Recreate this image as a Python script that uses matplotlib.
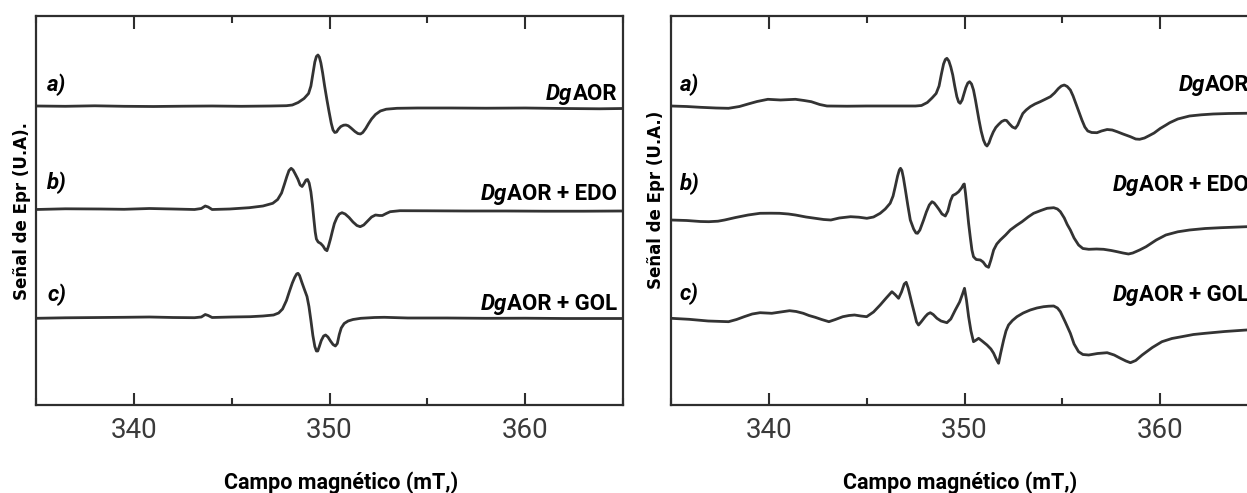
import matplotlib
matplotlib.use("Agg")
import matplotlib.pyplot as plt
from matplotlib import font_manager
from matplotlib.ticker import MultipleLocator

names = {f.name for f in font_manager.fontManager.ttflist}
narrow = "Liberation Sans Narrow" if "Liberation Sans Narrow" in names else "Roboto"

# ---- left panel: field (mT) and signal (a.u., relative to each baseline) ----
left_a_field = [335.0, 336.5, 338.0, 339.5, 341.0, 342.5, 344.0, 345.5, 347.0, 347.8,
                348.1, 348.4, 348.7, 348.93, 349.05, 349.15, 349.25, 349.33, 349.41, 349.48,
                349.56, 349.65, 349.75, 349.87, 349.98, 350.09, 350.18, 350.27, 350.36, 350.46,
                350.58, 350.72, 350.84, 350.96, 351.1, 351.3, 351.45, 351.58, 351.7, 351.85,
                352.0, 352.15, 352.35, 352.6, 352.9, 353.45, 354.5, 356.2, 358.0, 360.0,
                362.0, 363.8, 365.0]
left_a_signal = [0.0, -0.03, 0.02, -0.03, -0.05, -0.02, 0.0, -0.03, 0.0, 0.03,
                 0.1, 0.35, 0.75, 1.25, 2.0, 3.2, 4.4, 4.95, 5.1, 4.9,
                 4.3, 3.3, 2.0, 0.6, -0.6, -1.73, -2.4, -2.65, -2.6, -2.3,
                 -2.05, -1.92, -1.9, -1.98, -2.2, -2.55, -2.75, -2.8, -2.65, -2.25,
                 -1.75, -1.3, -0.85, -0.5, -0.32, -0.23, -0.2, -0.2, -0.22, -0.2,
                 -0.25, -0.28, -0.25]

left_b_field = [335.0, 336.5, 338.3, 339.5, 340.8, 342.0, 343.1, 343.45, 343.65, 343.8,
                344.0, 344.9, 345.9, 346.6, 347.1, 347.35, 347.55, 347.7, 347.82, 347.93,
                348.04, 348.14, 348.25, 348.38, 348.5, 348.6, 348.7, 348.8, 348.88, 348.96,
                349.05, 349.13, 349.2, 349.27, 349.33, 349.42, 349.55, 349.67, 349.78, 349.87,
                349.95, 350.05, 350.15, 350.25, 350.38, 350.5, 350.64, 350.8, 351.0, 351.2,
                351.4, 351.57, 351.75, 351.95, 352.15, 352.35, 352.55, 352.7, 352.9, 353.1,
                353.6, 355.0, 357.0, 359.0, 361.0, 363.0, 365.0]
left_b_signal = [-0.05, 0.02, 0.0, -0.03, 0.05, 0.0, -0.05, 0.05, 0.3, 0.2,
                 -0.05, 0.0, 0.13, 0.3, 0.57, 0.95, 1.6, 2.5, 3.25, 3.85,
                 4.07, 3.9, 3.5, 3.0, 2.4, 2.25, 2.55, 2.9, 2.95, 2.6,
                 1.7, 0.4, -1.0, -2.3, -3.0, -3.3, -3.45, -3.7, -4.05, -4.17,
                 -3.7, -3.0, -2.2, -1.45, -0.85, -0.5, -0.37, -0.5, -0.85, -1.3,
                 -1.65, -1.77, -1.6, -1.2, -0.8, -0.6, -0.65, -0.65, -0.45, -0.27,
                 -0.17, -0.18, -0.2, -0.2, -0.22, -0.22, -0.2]

left_c_field = [335.0, 336.5, 338.3, 339.5, 340.8, 342.0, 343.1, 343.45, 343.65, 343.8,
                344.0, 345.0, 345.95, 346.6, 347.14, 347.4, 347.6, 347.8, 347.95, 348.1,
                348.22, 348.32, 348.39, 348.47, 348.59, 348.7, 348.85, 348.95, 349.05, 349.15,
                349.25, 349.33, 349.4, 349.48, 349.58, 349.7, 349.8, 349.92, 350.05, 350.18,
                350.3, 350.4, 350.5, 350.6, 350.75, 350.95, 351.2, 351.6, 352.3, 352.8,
                354.0, 356.0, 358.0, 360.0, 362.0, 365.0]
left_c_signal = [-0.08, -0.03, 0.0, 0.02, 0.05, 0.0, -0.02, 0.05, 0.3, 0.2,
                 0.0, 0.05, 0.08, 0.15, 0.25, 0.45, 0.85, 1.7, 2.6, 3.45,
                 4.0, 4.35, 4.42, 4.2, 3.5, 2.9, 2.1, 1.1, -0.3, -1.8,
                 -2.9, -3.35, -3.35, -2.9, -2.3, -1.85, -1.75, -1.95, -2.35, -2.7,
                 -2.85, -2.6, -1.7, -1.05, -0.6, -0.35, -0.2, -0.08, 0.0, 0.02,
                 -0.05, -0.05, -0.08, -0.07, -0.1, -0.1]

# ---- right panel ----
right_a_field = [335.0, 335.8, 336.5, 337.3, 337.94, 338.5, 338.94, 339.4, 339.95, 340.6,
                 341.36, 341.8, 342.17, 342.6, 342.97, 344.0, 345.0, 346.5, 347.5, 347.8,
                 348.1, 348.34, 348.55, 348.7, 348.82, 348.93, 349.02, 349.1, 349.2, 349.3,
                 349.4, 349.5, 349.61, 349.7, 349.78, 349.88, 349.97, 350.07, 350.17, 350.26,
                 350.36, 350.46, 350.56, 350.65, 350.74, 350.85, 350.97, 351.07, 351.15, 351.25,
                 351.35, 351.47, 351.6, 351.74, 351.9, 352.05, 352.15, 352.3, 352.45, 352.6,
                 352.72, 352.85, 352.98, 353.15, 353.36, 353.6, 353.87, 354.1, 354.39, 354.6,
                 354.8, 354.95, 355.1, 355.25, 355.41, 355.55, 355.7, 355.85, 356.0, 356.15,
                 356.3, 356.5, 356.77, 357.0, 357.29, 357.55, 357.8, 358.1, 358.48, 358.75,
                 358.95, 359.2, 359.45, 359.69, 360.0, 360.3, 360.49, 360.9, 361.5, 362.1,
                 362.71, 363.5, 364.31, 365.0]
right_a_signal = [0.0, -0.05, -0.13, -0.2, -0.23, -0.05, 0.2, 0.45, 0.67, 0.6,
                  0.67, 0.55, 0.43, 0.15, 0.0, -0.02, 0.0, 0.0, 0.0, 0.05,
                  0.35, 0.8, 1.25, 2.0, 3.2, 4.2, 4.65, 4.77, 4.5, 3.9,
                  3.1, 2.0, 0.93, 0.4, 0.27, 0.6, 1.2, 1.85, 2.3, 2.43,
                  2.2, 1.6, 0.6, -0.4, -1.4, -2.5, -3.4, -3.85, -4.0, -3.7,
                  -3.15, -2.6, -2.15, -1.85, -1.55, -1.42, -1.45, -1.8, -2.1, -2.23,
                  -1.9, -1.3, -0.75, -0.4, -0.07, 0.2, 0.43, 0.65, 0.93, 1.3,
                  1.75, 2.0, 2.1, 1.95, 1.6, 1.0, 0.2, -0.6, -1.4, -2.1,
                  -2.5, -2.65, -2.67, -2.5, -2.35, -2.4, -2.57, -2.8, -3.07, -3.3,
                  -3.33, -3.2, -2.95, -2.7, -2.25, -1.9, -1.67, -1.3, -1.0, -0.88,
                  -0.8, -0.75, -0.73, -0.7]

right_b_field = [335.0, 335.8, 336.5, 336.93, 337.4, 337.74, 338.3, 338.94, 339.55, 340.1,
                 340.55, 341.0, 341.36, 341.9, 342.37, 342.8, 343.17, 343.6, 344.18, 344.6,
                 345.01, 345.35, 345.69, 345.95, 346.2, 346.35, 346.46, 346.58, 346.67, 346.73,
                 346.8, 346.88, 346.98, 347.1, 347.23, 347.4, 347.52, 347.6, 347.72, 347.91,
                 348.05, 348.2, 348.34, 348.45, 348.57, 348.7, 348.85, 349.02, 349.15, 349.28,
                 349.4, 349.55, 349.7, 349.85, 349.95, 349.99, 350.05, 350.12, 350.21, 350.3,
                 350.38, 350.46, 350.6, 350.81, 350.95, 351.1, 351.23, 351.35, 351.49, 351.65,
                 351.83, 352.1, 352.34, 352.65, 352.94, 353.25, 353.53, 353.9, 354.22, 354.56,
                 354.75, 354.9, 355.1, 355.25, 355.41, 355.6, 355.83, 356.05, 356.35, 356.75,
                 357.11, 357.5, 357.8, 358.1, 358.38, 358.6, 358.95, 359.28, 359.8, 360.29,
                 360.9, 361.5, 362.3, 363.11, 364.41, 365.0]
right_b_signal = [0.0, -0.05, -0.15, -0.17, -0.12, 0.0, 0.25, 0.5, 0.67, 0.68,
                  0.67, 0.6, 0.5, 0.3, 0.17, 0.05, 0.0, 0.2, 0.33, 0.28,
                  0.17, 0.3, 0.67, 1.1, 1.67, 2.4, 3.33, 4.4, 5.0, 5.17,
                  4.95, 4.2, 3.0, 1.5, 0.0, -0.9, -1.3, -1.33, -1.0, 0.0,
                  0.8, 1.5, 1.83, 1.7, 1.4, 1.05, 0.6, 0.4, 0.9, 1.9,
                  2.45, 2.6, 2.83, 3.2, 3.55, 3.6, 2.7, 1.4, -0.33, -1.8,
                  -3.0, -3.67, -3.95, -4.0, -4.2, -4.6, -4.73, -4.0, -3.0, -2.4,
                  -2.0, -1.5, -1.0, -0.55, -0.17, 0.3, 0.67, 0.95, 1.17, 1.23,
                  1.1, 0.83, 0.2, -0.45, -1.0, -1.8, -2.5, -2.85, -2.93, -2.9,
                  -2.93, -3.05, -3.17, -3.3, -3.4, -3.3, -3.0, -2.67, -2.0, -1.5,
                  -1.18, -1.0, -0.85, -0.77, -0.67, -0.65]

right_c_field = [335.0, 335.92, 336.9, 337.94, 338.35, 338.74, 339.15, 339.55, 340.15, 340.6,
                 341.06, 341.4, 341.76, 342.05, 342.37, 342.7, 343.07, 343.4, 343.78, 344.1,
                 344.38, 344.7, 345.0, 345.35, 345.69, 346.0, 346.29, 346.45, 346.63, 346.78,
                 346.92, 347.02, 347.12, 347.22, 347.31, 347.45, 347.55, 347.65, 347.78, 347.99,
                 348.12, 348.25, 348.4, 348.59, 348.8, 349.1, 349.3, 349.53, 349.75, 349.9,
                 350.0, 350.1, 350.21, 350.33, 350.46, 350.6, 350.72, 350.9, 351.15, 351.35,
                 351.49, 351.62, 351.74, 351.85, 352.0, 352.12, 352.25, 352.45, 352.68, 353.0,
                 353.36, 353.7, 354.04, 354.3, 354.56, 354.75, 354.9, 355.15, 355.41, 355.6,
                 355.83, 356.05, 356.35, 356.8, 357.29, 357.65, 357.97, 358.25, 358.48, 358.75,
                 359.08, 359.6, 360.09, 360.6, 361.1, 361.7, 362.3, 363.3, 364.41, 365.0]
right_c_signal = [-0.03, -0.13, -0.3, -0.37, -0.15, 0.13, 0.4, 0.53, 0.47, 0.6,
                  0.73, 0.65, 0.47, 0.25, 0.07, -0.15, -0.37, -0.15, 0.13, 0.25,
                  0.3, 0.2, 0.13, 0.6, 1.3, 2.0, 2.63, 2.35, 1.97, 2.6,
                  3.4, 3.57, 3.0, 2.2, 1.47, 0.4, -0.4, -0.7, -0.4, 0.13,
                  0.4, 0.53, 0.35, -0.03, -0.3, -0.47, -0.1, 0.8, 1.6, 2.4,
                  2.97, 1.8, 0.13, -1.3, -2.37, -2.2, -2.03, -2.3, -2.7, -3.1,
                  -3.53, -4.1, -4.53, -3.5, -2.2, -1.3, -0.7, -0.25, 0.13, 0.5,
                  0.8, 1.0, 1.13, 1.18, 1.2, 1.0, 0.63, -0.4, -1.53, -2.6,
                  -3.37, -3.65, -3.7, -3.55, -3.47, -3.7, -4.03, -4.3, -4.47, -4.25,
                  -3.7, -2.95, -2.37, -2.05, -1.87, -1.65, -1.53, -1.35, -1.2, -1.15]

panel_tags = ["a)", "b)", "c)"]
sample_names = ["AOR", "AOR + EDO", "AOR + GOL"]
left_offsets = [29.9, 19.6, 8.75]
right_offsets = [29.9, 18.5, 8.7]

W, H = 1247, 493
fig = plt.figure(figsize=(W / 100, H / 100), dpi=100)
ink = "#2e2e2e"


def setup(ax):
    ax.set_xlim(335, 365)
    ax.set_ylim(0, 38.9)
    ax.set_yticks([])
    ax.xaxis.set_major_locator(MultipleLocator(10))
    ax.xaxis.set_minor_locator(MultipleLocator(5))
    ax.tick_params(axis="x", which="both", direction="in", top=True, color=ink, width=1.5)
    ax.tick_params(axis="x", which="major", length=9, pad=9, labelsize=20, labelcolor="#3a3a3a")
    ax.tick_params(axis="x", which="minor", length=5)
    for lab in ax.get_xticklabels():
        lab.set_family(narrow)
    for s in ax.spines.values():
        s.set_color(ink)
        s.set_linewidth(1.6)


def label_panel(ax, tag_y, name_y, name_x, tag_x, ylabel, ylab_xy, xlab_x):
    for tag, name, ty, ny in zip(panel_tags, sample_names, tag_y, name_y):
        ax.text(tag_x, ty, tag, transform=ax.transAxes, ha="left", va="center",
                family=narrow, fontsize=16, fontweight="bold", fontstyle="italic")
        t1 = ax.text(name_x, ny, name, transform=ax.transAxes, ha="right", va="center",
                     family=narrow, fontsize=16, fontweight="bold")
        ax.annotate("Dg", xy=(0, 0.5), xycoords=t1, ha="right", va="center",
                    family=narrow, fontsize=16, fontweight="bold", fontstyle="italic")
    ax.text(ylab_xy[0], ylab_xy[1], ylabel, transform=ax.transAxes, rotation=90,
            ha="center", va="center", fontsize=12, fontweight="bold")
    ax.text(xlab_x, -0.2, "Campo magnético (mT,)", transform=ax.transAxes,
            ha="center", va="center", family=narrow, fontsize=15.5, fontweight="bold")


# left panel
axl = fig.add_axes([36 / W, 88 / H, 587 / W, 389 / H])
setup(axl)
for fld, sig, off in zip([left_a_field, left_b_field, left_c_field],
                         [left_a_signal, left_b_signal, left_c_signal], left_offsets):
    axl.plot(fld, [off + v for v in sig], color="#333333", lw=2.0, solid_joinstyle="round")
label_panel(axl, [0.823, 0.571, 0.283], [0.80, 0.542, 0.26], 0.99, 0.019,
            "Señal de Epr (U.A).", (-0.024, 0.50), 0.52)

# right panel (runs past the right edge of the figure, as in the source)
axr = fig.add_axes([671 / W, 88 / H, 587 / W, 389 / H])
setup(axr)
for fld, sig, off in zip([right_a_field, right_b_field, right_c_field],
                         [right_a_signal, right_b_signal, right_c_signal], right_offsets):
    axr.plot(fld, [off + v for v in sig], color="#333333", lw=2.0, solid_joinstyle="round")
label_panel(axr, [0.823, 0.568, 0.285], [0.823, 0.566, 0.283], 0.985, 0.015,
            "Señal de Epr (U.A.)", (-0.026, 0.527), 0.492)

fig.savefig("out.png", dpi=100)
